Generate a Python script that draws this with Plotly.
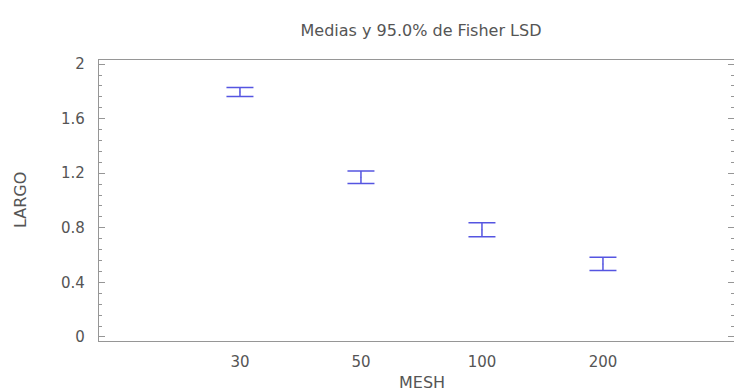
import plotly.graph_objects as go

# Group means with 95% Fisher LSD half-widths
mesh = ["30", "50", "100", "200"]
largo_mean = [1.795, 1.170, 0.785, 0.535]
lsd_half = [0.033, 0.046, 0.051, 0.049]

bar_color = "rgb(85,85,225)"
axis_color = "rgb(150,150,150)"
text_color = "rgb(85,85,85)"
font_family = "DejaVu Sans, Verdana, sans-serif"

fig = go.Figure()
fig.add_trace(go.Scatter(
    x=mesh,
    y=largo_mean,
    mode="markers",
    marker=dict(size=1, color=bar_color),
    error_y=dict(type="data", array=lsd_half, visible=True,
                 color=bar_color, thickness=1.5, width=13.5),
    showlegend=False,
    hoverinfo="skip",
))

fig.update_layout(
    width=734, height=391,
    margin=dict(l=99, r=0, t=60, b=50),
    paper_bgcolor="white", plot_bgcolor="white",
    font=dict(family=font_family, size=15, color=text_color),
    title=dict(text="Medias y 95.0% de Fisher LSD", x=0.5736, xref="container",
               xanchor="center", y=0.9233, yref="container", yanchor="middle",
               font=dict(size=16, color=text_color)),
    annotations=[
        dict(text="MESH", xref="paper", yref="paper", x=(422 - 99) / 635,
             y=-(382 - 341) / 281, xanchor="center", yanchor="middle",
             showarrow=False, font=dict(size=16, color=text_color)),
        dict(text="LARGO", xref="paper", yref="paper", x=-(99 - 20) / 635,
             y=(341 - 200) / 281, xanchor="center", yanchor="middle",
             textangle=-90, showarrow=False,
             font=dict(size=16, color=text_color)),
    ],
)

fig.update_xaxes(
    type="category",
    range=[-1.165, 4.083],
    showline=True, linecolor=axis_color, linewidth=1.2, mirror=True,
    showgrid=False, zeroline=False, ticks="",
    tickfont=dict(size=15, color=text_color),
    ticklabelstandoff=7,
)

fig.update_yaxes(
    range=[-0.03, 2.03],
    tickvals=[0, 0.4, 0.8, 1.2, 1.6, 2],
    ticktext=["0", "0.4", "0.8", "1.2", "1.6", "2"],
    showline=True, linecolor=axis_color, linewidth=1.2, mirror="ticks",
    showgrid=False, zeroline=False,
    ticks="inside", ticklen=6, tickcolor=axis_color, tickwidth=1,
    minor=dict(dtick=0.08, tick0=0, ticks="inside", ticklen=3,
               tickcolor=axis_color, tickwidth=1),
    tickfont=dict(size=15, color=text_color),
    ticklabelstandoff=10,
)

fig.write_html("out.html")
